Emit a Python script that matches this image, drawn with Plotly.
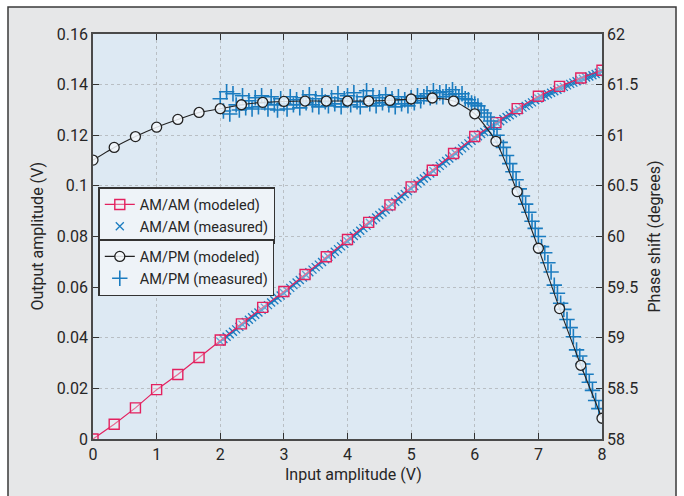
import plotly.graph_objects as go

# ---------------- data ----------------
# modeled curves (points every 1/3 V)
model_x = [0, 0.333, 0.667, 1.0, 1.333, 1.667, 2.0, 2.333, 2.667, 3.0, 3.333, 3.667, 4.0,
           4.333, 4.667, 5.0, 5.333, 5.667, 6.0, 6.333, 6.667, 7.0, 7.333, 7.667, 8.0]
amam_model = [0.0, 0.0058, 0.0123, 0.0195, 0.0255, 0.0322, 0.0391, 0.0455, 0.0520, 0.0583,
              0.0650, 0.0720, 0.0788, 0.0856, 0.0925, 0.0996, 0.1062, 0.1128, 0.1195,
              0.1250, 0.1305, 0.1354, 0.1393, 0.1426, 0.1457]
ampm_model = [60.755, 60.88, 60.987, 61.08, 61.156, 61.225, 61.262, 61.301, 61.325, 61.334,
              61.338, 61.338, 61.338, 61.338, 61.344, 61.358, 61.368, 61.338, 61.212,
              60.94, 60.444, 59.884, 59.288, 58.728, 58.205]

# measured AM/AM
amam_meas_x = [2.00, 2.05, 2.10, 2.15, 2.20, 2.25, 2.30, 2.35, 2.40, 2.45, 2.50, 2.55, 2.60,
               2.65, 2.70, 2.75, 2.80, 2.85, 2.90, 2.95, 3.00, 3.05, 3.10, 3.15, 3.20, 3.25,
               3.30, 3.35, 3.40, 3.45, 3.50, 3.55, 3.60, 3.65, 3.70, 3.75, 3.80, 3.85, 3.90,
               3.95, 4.00, 4.05, 4.10, 4.15, 4.20, 4.25, 4.30, 4.35, 4.40, 4.45, 4.50, 4.55,
               4.60, 4.65, 4.70, 4.75, 4.80, 4.85, 4.90, 4.95, 5.00, 5.05, 5.10, 5.15, 5.20,
               5.25, 5.30, 5.35, 5.40, 5.45, 5.50, 5.55, 5.60, 5.65, 5.70, 5.75, 5.80, 5.85,
               5.90, 5.95, 6.00, 6.05, 6.10, 6.15, 6.20, 6.25, 6.30, 6.35, 6.40, 6.45, 6.50,
               6.55, 6.60, 6.65, 6.70, 6.75, 6.80, 6.85, 6.90, 6.95, 7.00, 7.05, 7.10, 7.15,
               7.20, 7.25, 7.30, 7.35, 7.40, 7.45, 7.50, 7.55, 7.60, 7.65, 7.70, 7.75, 7.80,
               7.85, 7.90, 7.95, 8.00]
amam_meas_y = [0.0385, 0.0395, 0.0404, 0.0414, 0.0424, 0.0433, 0.0443, 0.0452, 0.0462, 0.0471,
               0.0481, 0.0491, 0.0500, 0.0510, 0.0519, 0.0529, 0.0539, 0.0548, 0.0558, 0.0567,
               0.0577, 0.0587, 0.0597, 0.0608, 0.0618, 0.0628, 0.0638, 0.0648, 0.0659, 0.0669,
               0.0679, 0.0689, 0.0699, 0.0710, 0.0720, 0.0730, 0.0740, 0.0750, 0.0761, 0.0771,
               0.0781, 0.0791, 0.0802, 0.0812, 0.0823, 0.0833, 0.0843, 0.0854, 0.0864, 0.0875,
               0.0885, 0.0895, 0.0906, 0.0916, 0.0927, 0.0937, 0.0947, 0.0958, 0.0968, 0.0979,
               0.0989, 0.0999, 0.1009, 0.1019, 0.1029, 0.1039, 0.1049, 0.1059, 0.1069, 0.1079,
               0.1089, 0.1098, 0.1108, 0.1118, 0.1128, 0.1138, 0.1148, 0.1158, 0.1168, 0.1178,
               0.1188, 0.1196, 0.1205, 0.1213, 0.1222, 0.1230, 0.1238, 0.1247, 0.1255, 0.1264,
               0.1272, 0.1279, 0.1287, 0.1294, 0.1301, 0.1309, 0.1316, 0.1323, 0.1330, 0.1338,
               0.1345, 0.1351, 0.1357, 0.1362, 0.1368, 0.1374, 0.1380, 0.1386, 0.1391, 0.1397,
               0.1403, 0.1408, 0.1413, 0.1418, 0.1423, 0.1428, 0.1432, 0.1437, 0.1442, 0.1447,
               0.1452]

# measured AM/PM
ampm_meas_x = [2.00, 2.05, 2.10, 2.15, 2.20, 2.25, 2.30, 2.35, 2.40, 2.45, 2.50, 2.55, 2.60,
               2.65, 2.70, 2.75, 2.80, 2.85, 2.90, 2.95, 3.00, 3.05, 3.10, 3.15, 3.20, 3.25,
               3.30, 3.35, 3.40, 3.45, 3.50, 3.55, 3.60, 3.65, 3.70, 3.75, 3.80, 3.85, 3.90,
               3.95, 4.00, 4.05, 4.10, 4.15, 4.20, 4.25, 4.30, 4.35, 4.40, 4.45, 4.50, 4.55,
               4.60, 4.65, 4.70, 4.75, 4.80, 4.85, 4.90, 4.95, 5.00, 5.05, 5.10, 5.15, 5.20,
               5.25, 5.30, 5.35, 5.40, 5.45, 5.50, 5.55, 5.60, 5.65, 5.70, 5.75, 5.80, 5.85,
               5.90, 5.95, 6.00, 6.05, 6.10, 6.15, 6.20, 6.25, 6.30, 6.35, 6.40, 6.45, 6.50,
               6.55, 6.60, 6.65, 6.70, 6.75, 6.80, 6.85, 6.90, 6.95, 7.00, 7.05, 7.10, 7.15,
               7.20, 7.25, 7.30, 7.35, 7.40, 7.45, 7.50, 7.55, 7.60, 7.65, 7.70, 7.75, 7.80,
               7.85, 7.90, 7.95]
ampm_meas_y = [61.36, 61.24, 61.43, 61.21, 61.41, 61.30, 61.25, 61.39, 61.27, 61.34, 61.26,
               61.37, 61.28, 61.39, 61.32, 61.26, 61.38, 61.30, 61.25, 61.36, 61.31, 61.26,
               61.38, 61.30, 61.35, 61.27, 61.37, 61.32, 61.40, 61.30, 61.36, 61.28, 61.39,
               61.33, 61.29, 61.37, 61.31, 61.41, 61.28, 61.36, 61.39, 61.30, 61.42, 61.33,
               61.28, 61.38, 61.44, 61.31, 61.39, 61.29, 61.37, 61.32, 61.40, 61.30, 61.36,
               61.28, 61.38, 61.31, 61.35, 61.29, 61.37, 61.32, 61.39, 61.34, 61.38, 61.41,
               61.37, 61.44, 61.38, 61.42, 61.38, 61.43, 61.40, 61.45, 61.41, 61.38, 61.41,
               61.36, 61.35, 61.32, 61.31, 61.29, 61.25, 61.22, 61.18, 61.14, 61.06, 61.00,
               60.93, 60.88, 60.80, 60.72, 60.64, 60.56, 60.47, 60.40, 60.32, 60.24, 60.15,
               60.08, 60.00, 59.90, 59.84, 59.74, 59.65, 59.52, 59.44, 59.34, 59.28, 59.18,
               59.10, 59.01, 58.88, 58.82, 58.74, 58.64, 58.56, 58.48, 58.38, 58.30]

x_ticks = [0, 1, 2, 3, 4, 5, 6, 7, 8]

# ---------------- styles ----------------
RED = "#e3215f"
BLUE = "#1b7cc0"
BLACK = "#222222"
FONT = "Roboto"
TXT = "#262626"

fig = go.Figure()

fig.add_trace(go.Scatter(
    x=amam_meas_x, y=amam_meas_y, mode="markers", name="AM/AM (measured)",
    marker=dict(symbol="x-thin", size=8, line=dict(width=1.3, color=BLUE), color=BLUE),
    legend="legend", legendrank=2, yaxis="y"))
fig.add_trace(go.Scatter(
    x=model_x, y=amam_model, mode="lines+markers", name="AM/AM (modeled)",
    line=dict(color=RED, width=1.2),
    marker=dict(symbol="square", size=10, color="rgba(240,245,250,0.35)",
                line=dict(width=1.4, color=RED)),
    legend="legend", legendrank=1, yaxis="y"))
fig.add_trace(go.Scatter(
    x=ampm_meas_x, y=ampm_meas_y, mode="markers", name="AM/PM (measured)",
    marker=dict(symbol="cross-thin", size=11, line=dict(width=1.6, color=BLUE), color=BLUE),
    legend="legend2", legendrank=2, yaxis="y2"))
fig.add_trace(go.Scatter(
    x=model_x, y=ampm_model, mode="lines+markers", name="AM/PM (modeled)",
    line=dict(color=BLACK, width=1.1, shape="spline", smoothing=0.6),
    marker=dict(symbol="circle", size=10, color="rgba(245,248,252,0.85)",
                line=dict(width=1.3, color=BLACK)),
    legend="legend2", legendrank=1, yaxis="y2"))

axis_common = dict(
    showline=True, linecolor="#4a4a4a", linewidth=1.6,
    ticks="inside", ticklen=6, tickcolor="#333", tickwidth=1.3,
    gridcolor="#b9bfc4", griddash="dot", gridwidth=1,
    zeroline=False, tickfont=dict(family=FONT, size=16, color=TXT),
)

legend_style = dict(xanchor="left", yanchor="top", bgcolor="#eef3f8", bordercolor="#333",
                    borderwidth=1.5, font=dict(family=FONT, size=14.5, color=TXT),
                    traceorder="normal", itemwidth=30, tracegroupgap=0)

fig.update_layout(
    width=684, height=496,
    margin=dict(l=93, r=82, t=34, b=57),
    paper_bgcolor="white",
    plot_bgcolor="rgba(0,0,0,0)",
    font=dict(family=FONT, color=TXT),
    xaxis=dict(range=[0, 8], tickvals=x_ticks, mirror="ticks", showgrid=True, **axis_common),
    yaxis=dict(range=[0, 0.16], dtick=0.02, tick0=0, mirror=False, showgrid=True, **axis_common),
    yaxis2=dict(range=[58, 62], dtick=0.5, tick0=58, overlaying="y", side="right",
                showgrid=False, **axis_common),
    legend=dict(x=0.0104, y=(439 - 187) / 405, **legend_style),
    legend2=dict(x=0.0104, y=(439 - 239) / 405, **legend_style),
    shapes=[
        dict(type="rect", xref="paper", yref="paper", x0=-0.167, x1=1.1454, y0=-0.3, y1=1.0667,
             fillcolor="#e6e7e8", line=dict(color="#3a3a3a", width=1.5), layer="below"),
        dict(type="rect", xref="paper", yref="paper", x0=0, x1=1, y0=0, y1=1,
             fillcolor="#dde9f3", line=dict(width=0), layer="below"),
    ],
    annotations=[
        dict(text="Input amplitude (V)", xref="paper", yref="paper",
             x=(353 - 93) / 509, y=(439 - 475) / 405, xanchor="center", yanchor="middle",
             showarrow=False, font=dict(family=FONT, size=16, color=TXT)),
        dict(text="Output amplitude (V)", xref="paper", yref="paper",
             x=(37 - 93) / 509, y=0.5, xanchor="center", yanchor="middle", textangle=-90,
             showarrow=False, font=dict(family=FONT, size=16, color=TXT)),
        dict(text="Phase shift (degrees)", xref="paper", yref="paper",
             x=(654 - 93) / 509, y=0.5, xanchor="center", yanchor="middle", textangle=-90,
             showarrow=False, font=dict(family=FONT, size=16, color=TXT)),
    ],
)

fig.write_html("out.html")
